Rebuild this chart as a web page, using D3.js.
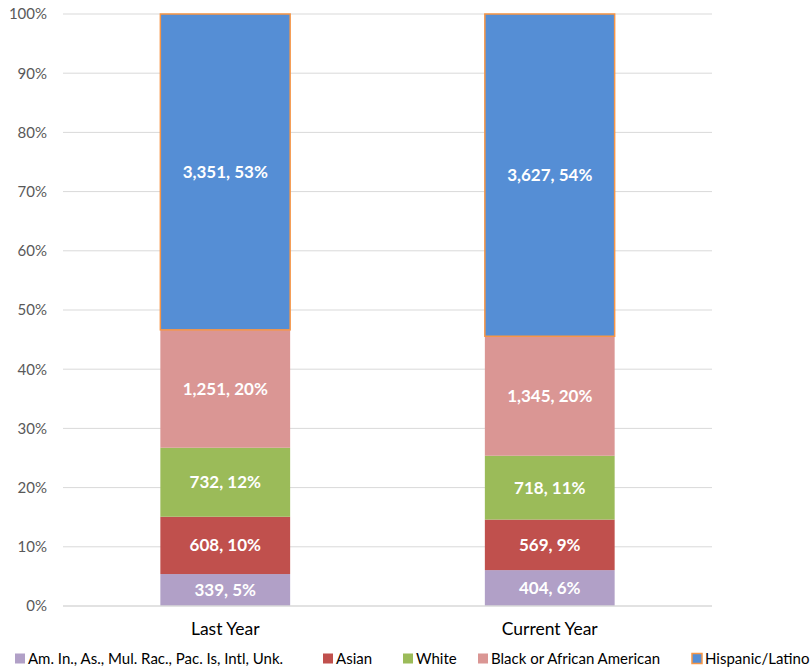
<!DOCTYPE html>
<html>
<head>
<meta charset="utf-8">
<script src="https://cdn.jsdelivr.net/npm/d3@7"></script>
<style>
  body { margin: 0; background: #fff; }
  text { font-family: Lato, "Open Sans", sans-serif; }
</style>
</head>
<body>
<div id="chart"></div>
<script>
var years = ["Last Year", "Current Year"];
var groups = ["Am. In., As., Mul. Rac., Pac. Is, Intl, Unk.", "Asian", "White", "Black or African American", "Hispanic/Latino"];
var amInd = [339, 404];
var asian = [608, 569];
var white = [732, 718];
var black = [1251, 1345];
var hispanic = [3351, 3627];
var pctLabels = [["5%", "6%"], ["10%", "9%"], ["12%", "11%"], ["20%", "20%"], ["53%", "54%"]];
var colors = ["#b1a0c7", "#c0504d", "#9bbb59", "#da9694", "#558ed5"];
var yTicks = [0, 0.1, 0.2, 0.3, 0.4, 0.5, 0.6, 0.7, 0.8, 0.9, 1];

var W = 812, H = 670;
var margin = { top: 14, right: 100, bottom: 64, left: 63 };
var width = W - margin.left - margin.right,
    height = H - margin.top - margin.bottom;

var series = [amInd, asian, white, black, hispanic];
var fmt = d3.format(",");

var svg = d3.select("#chart").append("svg")
    .attr("width", W)
    .attr("height", H);
var g = svg.append("g")
    .attr("transform", "translate(" + margin.left + "," + margin.top + ")");

var x = d3.scaleBand().domain(years).range([0, width]).paddingInner(0.6).paddingOuter(0.3);
var y = d3.scaleLinear().domain([0, 1]).range([height, 0]);

// gridlines
g.selectAll(".grid")
    .data(yTicks.slice(1))
    .enter().append("line")
    .attr("x1", 0).attr("x2", width)
    .attr("y1", function (d) { return y(d); })
    .attr("y2", function (d) { return y(d); })
    .attr("stroke", "#d9d9d9")
    .attr("stroke-width", 1);

// y axis labels
var yAxis = d3.axisLeft(y).tickValues(yTicks).tickFormat(d3.format(".0%")).tickSize(0).tickPadding(16);
g.append("g").call(yAxis)
    .call(function (a) { a.select(".domain").remove(); })
    .selectAll("text")
    .attr("font-size", "15px")
    .attr("fill", "#595959")
    .style("font-family", "Lato, sans-serif");

// stacking
var rows = years.map(function (yr, i) {
  var o = { year: yr, total: 0 };
  groups.forEach(function (k, j) { o[k] = series[j][i]; o.total += series[j][i]; });
  return o;
});
rows.forEach(function (r) {
  groups.forEach(function (k) { r[k + "_p"] = r[k] / r.total; });
});
var stack = d3.stack().keys(groups.map(function (k) { return k + "_p"; }));
var stacked = stack(rows);

var layer = g.selectAll(".layer")
    .data(stacked)
    .enter().append("g")
    .attr("fill", function (d, i) { return colors[i]; });

layer.selectAll("rect")
    .data(function (d, i) { return d.map(function (v, j) { return { v: v, s: i, c: j }; }); })
    .enter().append("rect")
    .attr("x", function (d) { return x(years[d.c]); })
    .attr("y", function (d) { return y(d.v[1]); })
    .attr("width", x.bandwidth())
    .attr("height", function (d) { return y(d.v[0]) - y(d.v[1]); })
    .attr("stroke", function (d) { return d.s == 4 ? "#f79646" : "none"; })
    .attr("stroke-width", 1.5);

layer.selectAll("text")
    .data(function (d, i) { return d.map(function (v, j) { return { v: v, s: i, c: j }; }); })
    .enter().append("text")
    .attr("x", function (d) { return x(years[d.c]) + x.bandwidth() / 2; })
    .attr("y", function (d) { return (y(d.v[0]) + y(d.v[1])) / 2; })
    .attr("dy", "0.35em")
    .attr("text-anchor", "middle")
    .attr("fill", "#fff")
    .attr("font-weight", "bold")
    .attr("font-size", "17px")
    .text(function (d) { return fmt(series[d.s][d.c]) + ", " + pctLabels[d.s][d.c]; });

// baseline
g.append("line")
    .attr("x1", 0).attr("x2", width)
    .attr("y1", y(0)).attr("y2", y(0))
    .attr("stroke", "#d9d9d9")
    .attr("stroke-width", 1.5);

// x axis labels
var xAxis = d3.axisBottom(x).tickSize(0).tickPadding(17);
g.append("g").attr("transform", "translate(0," + height + ")").call(xAxis)
    .call(function (a) { a.select(".domain").remove(); })
    .selectAll("text")
    .attr("font-size", "17.5px")
    .attr("fill", "#000")
    .style("font-family", "Lato, sans-serif");

// legend
var legend = svg.append("g").attr("transform", "translate(0,658.5)");
var items = legend.selectAll(".item")
    .data(groups)
    .enter().append("g");
items.append("rect")
    .attr("x", 0).attr("y", -5)
    .attr("width", 10).attr("height", 10)
    .attr("fill", function (d, i) { return colors[i]; })
    .attr("stroke", function (d, i) { return i == 4 ? "#f79646" : "none"; })
    .attr("stroke-width", 1.5);
items.append("text")
    .attr("x", 13)
    .attr("dy", "0.35em")
    .attr("font-size", "15px")
    .attr("fill", "#000")
    .text(function (d) { return d; });

var legendX = [15, 323, 403, 478, 692];
items.attr("transform", function (d, i) { return "translate(" + legendX[i] + ",0)"; });
</script>
</body>
</html>
